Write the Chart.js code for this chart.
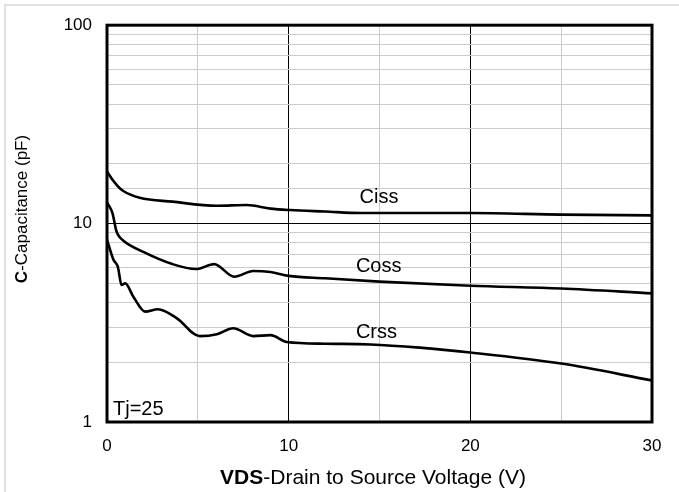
<!DOCTYPE html>
<html>
<head>
<meta charset="utf-8">
<script src="https://cdn.jsdelivr.net/npm/chart.js@4.4.1/dist/chart.umd.min.js"></script>
<style>
  html, body { margin: 0; padding: 0; background: #fff; }
  #wrap { width: 679px; height: 492px; position: relative; }
</style>
</head>
<body>
<div id="wrap"><canvas id="myChart" width="679" height="492"></canvas></div>
<script>
// values (VDS in V, capacitance in pF)
var cissV = [0, 0.05, 0.55, 0.9, 1.8, 3.6, 6.05, 7.7, 9, 10.1, 12, 14, 20, 25, 30];
var ciss  = [18.4, 18, 15.6, 14.6, 13.5, 12.9, 12.3, 12.4, 11.9, 11.7, 11.5, 11.3, 11.3, 11.1, 11.0];

var cossV = [0, 0.3, 0.5, 0.6, 0.9, 2, 3.6, 4.9, 5.9, 7.0, 8.05, 9, 10, 12, 15, 20, 25, 30];
var coss  = [12.8, 11.3, 9.3, 8.8, 8.2, 7.2, 6.25, 5.9, 6.25, 5.4, 5.77, 5.7, 5.45, 5.3, 5.1, 4.86, 4.71, 4.45];

var crssV = [0, 0.35, 0.6, 0.8, 1.0, 1.45, 2.1, 2.8, 3.85, 5.1, 6.05, 6.95, 8.05, 9, 9.9, 12, 14.5, 17.2, 20, 25, 30];
var crss  = [8.3, 6.6, 6.04, 4.9, 5.0, 4.28, 3.6, 3.7, 3.33, 2.71, 2.77, 2.97, 2.71, 2.74, 2.53, 2.48, 2.46, 2.37, 2.24, 1.97, 1.62];

var yTickLabels = [1, 10, 100];
var xTickLabels = [0, 10, 20, 30];

var FONT = "'Liberation Sans', Arial, sans-serif";

function pts(xs, ys) {
    return xs.map(function(x, i) { return { x: x, y: ys[i] }; });
}

function serie(name, xs, ys) {
    return {
        label: name,
        data: pts(xs, ys),
        borderColor: '#000',
        borderWidth: 2.6,
        pointRadius: 0,
        fill: false,
        cubicInterpolationMode: 'monotone'
    };
}

// frame, outer border, axis titles and curve names
var decor = {
    id: 'decor',
    beforeDraw: function(chart) {
        var c = chart.ctx;
        c.save();
        c.strokeStyle = '#d9d9d9';
        c.lineWidth = 1.5;
        c.beginPath();
        c.moveTo(5, 492); c.lineTo(5, 5); c.lineTo(679, 5);
        c.stroke();
        c.restore();
    },
    afterDraw: function(chart) {
        var c = chart.ctx;
        var a = chart.chartArea;
        var xs = chart.scales.x, ys = chart.scales.y;
        c.save();
        c.strokeStyle = '#000';
        c.lineWidth = 3;
        c.strokeRect(a.left, a.top, a.right - a.left, a.bottom - a.top);

        c.fillStyle = '#000';
        c.textBaseline = 'alphabetic';
        c.textAlign = 'left';
        c.font = '20px ' + FONT;
        c.fillText('Ciss', xs.getPixelForValue(13.9), ys.getPixelForValue(12.7));
        c.fillText('Coss', xs.getPixelForValue(13.7), ys.getPixelForValue(5.7));
        c.fillText('Crss', xs.getPixelForValue(13.7), ys.getPixelForValue(2.65));
        c.fillText('Tj=25', xs.getPixelForValue(0.33), ys.getPixelForValue(1.08));

        // x title, bold part first
        c.textBaseline = 'middle';
        c.font = 'bold 21px ' + FONT;
        var b1 = 'VDS', r1 = '-Drain to Source Voltage (V)';
        var w1 = c.measureText(b1).width;
        c.font = '21px ' + FONT;
        var w2 = c.measureText(r1).width;
        var x0 = 373 - (w1 + w2) / 2;
        c.font = 'bold 21px ' + FONT;
        c.fillText(b1, x0, 478);
        c.font = '21px ' + FONT;
        c.fillText(r1, x0 + w1, 478);

        // y title, rotated
        c.translate(22, 209);
        c.rotate(-Math.PI / 2);
        c.font = 'bold 17px ' + FONT;
        var b2 = 'C', r2 = '-Capacitance (pF)';
        var w3 = c.measureText(b2).width;
        c.font = '17px ' + FONT;
        var w4 = c.measureText(r2).width;
        var y0 = -(w3 + w4) / 2;
        c.font = 'bold 17px ' + FONT;
        c.fillText(b2, y0, 0);
        c.font = '17px ' + FONT;
        c.fillText(r2, y0 + w3, 0);
        c.restore();
    }
};

var ctx = document.getElementById('myChart');

var graphique = new Chart(ctx.getContext('2d'), {
    type: 'line',
    data: {
        datasets: [
            serie('Ciss', cissV, ciss),
            serie('Coss', cossV, coss),
            serie('Crss', crssV, crss)
        ]
    },
    options: {
        responsive: false,
        animation: false,
        events: [],
        layout: { padding: { left: 0, right: 27, top: 20, bottom: 0 } },
        plugins: { legend: { display: false }, tooltip: { enabled: false } },
        scales: {
            x: {
                type: 'linear',
                min: 0,
                max: 30,
                afterFit: function(s) { s.height = 70; },
                border: { display: false },
                grid: {
                    drawTicks: false,
                    lineWidth: 1,
                    color: function(c) {
                        return c.tick && c.tick.value % 10 === 0 ? '#000' : '#cccccc';
                    }
                },
                ticks: {
                    stepSize: 5,
                    padding: 14,
                    maxRotation: 0,
                    autoSkip: false,
                    color: '#000',
                    font: { family: FONT, size: 17 },
                    callback: function(v) { return xTickLabels.indexOf(v) >= 0 ? String(v) : ''; }
                }
            },
            y: {
                type: 'logarithmic',
                min: 1,
                max: 100,
                afterFit: function(s) { s.width = 107; },
                border: { display: false },
                grid: {
                    drawTicks: false,
                    lineWidth: 1,
                    color: function(c) {
                        return c.tick && yTickLabels.indexOf(c.tick.value) >= 0 ? '#000' : '#cccccc';
                    }
                },
                ticks: {
                    padding: 15,
                    autoSkip: false,
                    color: '#000',
                    font: { family: FONT, size: 17 },
                    callback: function(v) { return yTickLabels.indexOf(v) >= 0 ? String(v) : ''; }
                }
            }
        }
    },
    plugins: [decor]
});
</script>
</body>
</html>
